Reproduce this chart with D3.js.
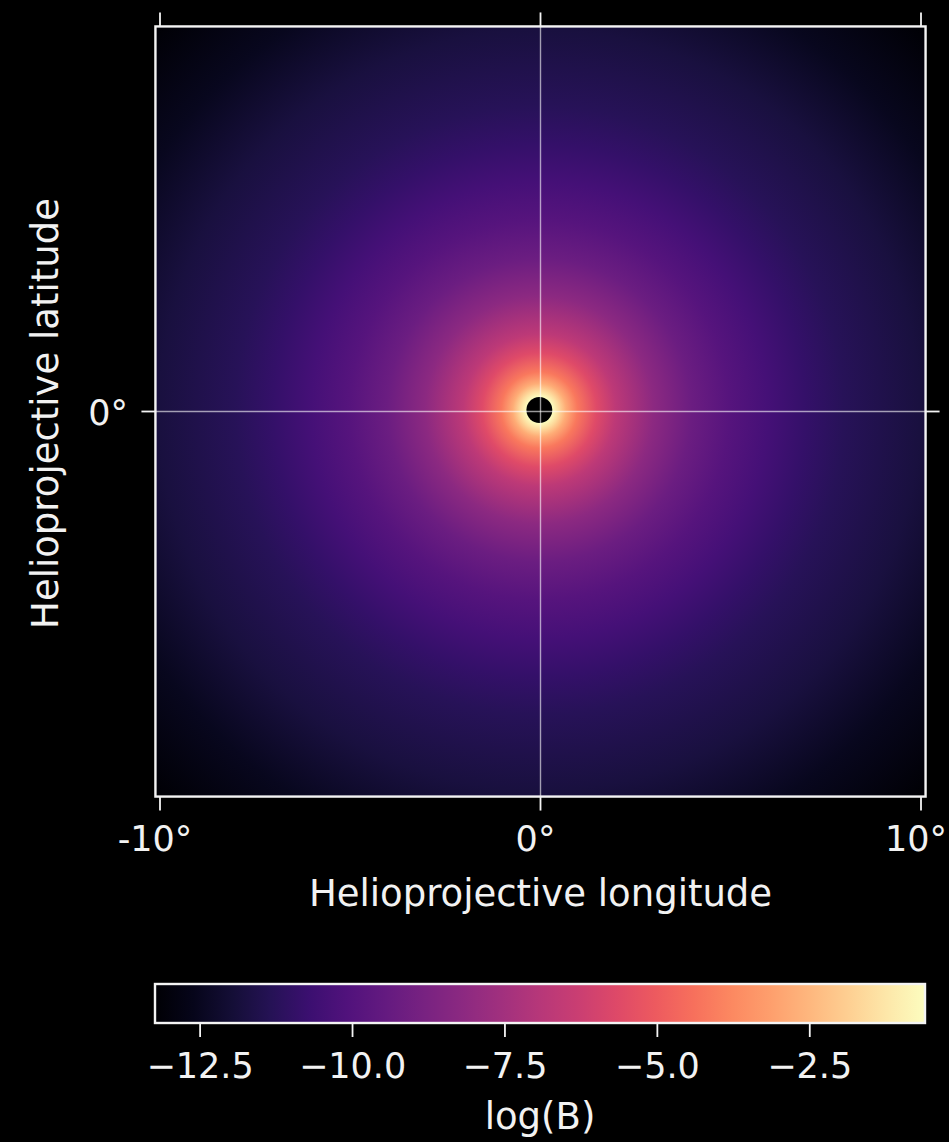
<!DOCTYPE html>
<html>
<head>
<meta charset="utf-8">
<script src="https://cdn.jsdelivr.net/npm/d3@7"></script>
<style>
  body { margin: 0; background: #000; }
  text { font-family: "DejaVu Sans", sans-serif; fill: #f2f2f2; }
</style>
</head>
<body>
<div id="chart"></div>
<script>
const width = 949;
const height = 1142;
const tick_font = 35;
const label_font = 37;

// radial profile of the image (degrees from centre -> log(B))
const profile_r = [0.34, 0.5, 0.7, 1.0, 1.5, 2.0, 3.0, 4.0, 5.0, 6.0, 7.0, 8.0, 10.0, 12.0, 14.31];
const profile_v = [-0.6, -1.5, -2.8, -4.2, -5.6, -6.7, -8.2, -9.2, -9.9, -10.4, -10.9, -11.3, -11.8, -12.5, -13.2];
const disk_r = 0.34;
const disk_center = [-0.03, 0.04];

const extent_deg = 10.12;
const axis_ticks = [-10, 0, 10];
const lat_ticks = [0];
const cbar_domain = [-13.24, -0.61];
const cbar_ticks = [-12.5, -10.0, -7.5, -5.0, -2.5];
const x_label = "Helioprojective longitude";
const y_label = "Helioprojective latitude";
const cbar_label = "log(B)";

function degLabel(d) {
    return (d < 0 ? "-" : "") + Math.abs(d) + "°";
}

function drawMap(svg) {
    var x = d3.scaleLinear().domain([-10, 10]).range([160, 921]);
    var y = d3.scaleLinear().domain([-10, 10]).range([792, 31]);
    var px_per_deg = x(1) - x(0);
    var left = x(-extent_deg), right = x(extent_deg);
    var top = y(extent_deg), bottom = y(-extent_deg);

    var color = d3.scaleSequential(d3.interpolateMagma).domain(cbar_domain);

    var defs = svg.select("defs");
    var grad = defs.append("radialGradient")
        .attr("id", "field")
        .attr("gradientUnits", "userSpaceOnUse")
        .attr("cx", x(disk_center[0]))
        .attr("cy", y(disk_center[1]))
        .attr("r", profile_r[profile_r.length - 1] * px_per_deg);
    var rmax = profile_r[profile_r.length - 1];
    grad.selectAll("stop")
        .data(profile_r)
        .enter()
        .append("stop")
        .attr("offset", (d) => d / rmax)
        .attr("stop-color", (d, i) => color(profile_v[i]));

    defs.append("clipPath").attr("id", "plotclip")
        .append("rect")
        .attr("x", left).attr("y", top)
        .attr("width", right - left).attr("height", bottom - top);

    var g = svg.append("g").attr("clip-path", "url(#plotclip)");
    g.append("rect")
        .attr("x", left).attr("y", top)
        .attr("width", right - left).attr("height", bottom - top)
        .attr("fill", "url(#field)");

    //occulted disk
    g.append("circle")
        .attr("cx", x(disk_center[0]))
        .attr("cy", y(disk_center[1]))
        .attr("r", disk_r * px_per_deg)
        .attr("fill", "#000");

    //grid lines
    g.selectAll("line.vgrid")
        .data([0])
        .enter()
        .append("line")
        .attr("x1", (d) => x(d)).attr("x2", (d) => x(d))
        .attr("y1", top).attr("y2", bottom)
        .attr("stroke", "#fff").attr("stroke-opacity", 0.6).attr("stroke-width", 1.4);
    g.selectAll("line.hgrid")
        .data(lat_ticks)
        .enter()
        .append("line")
        .attr("y1", (d) => y(d)).attr("y2", (d) => y(d))
        .attr("x1", left).attr("x2", right)
        .attr("stroke", "#fff").attr("stroke-opacity", 0.6).attr("stroke-width", 1.4);

    //frame
    svg.append("rect")
        .attr("x", left).attr("y", top)
        .attr("width", right - left).attr("height", bottom - top)
        .attr("fill", "none").attr("stroke", "#f4f4f4").attr("stroke-width", 2.4);

    //ticks on all four sides
    var tick_len = 14;
    var ticks = svg.append("g").attr("stroke", "#f4f4f4").attr("stroke-width", 1.8);
    axis_ticks.forEach((d) => {
        ticks.append("line").attr("x1", x(d)).attr("x2", x(d)).attr("y1", top).attr("y2", top - tick_len);
        ticks.append("line").attr("x1", x(d)).attr("x2", x(d)).attr("y1", bottom).attr("y2", bottom + tick_len);
    });
    lat_ticks.forEach((d) => {
        ticks.append("line").attr("y1", y(d)).attr("y2", y(d)).attr("x1", left).attr("x2", left - tick_len);
        ticks.append("line").attr("y1", y(d)).attr("y2", y(d)).attr("x1", right).attr("x2", right + tick_len);
    });

    //tick labels
    svg.selectAll("text.xtick")
        .data(axis_ticks)
        .enter()
        .append("text")
        .attr("x", (d) => x(d) - 5)
        .attr("y", 851)
        .attr("text-anchor", "middle")
        .attr("font-size", tick_font)
        .text(degLabel);
    svg.selectAll("text.ytick")
        .data(lat_ticks)
        .enter()
        .append("text")
        .attr("x", 128)
        .attr("y", (d) => y(d) + 13)
        .attr("text-anchor", "end")
        .attr("font-size", tick_font)
        .text(degLabel);

    //axis labels
    svg.append("text")
        .attr("x", x(0))
        .attr("y", 906)
        .attr("text-anchor", "middle")
        .attr("font-size", label_font)
        .text(x_label);
    svg.append("text")
        .attr("transform", "translate(58," + (y(0) + 2) + ") rotate(-90)")
        .attr("text-anchor", "middle")
        .attr("font-size", label_font)
        .text(y_label);
}

function drawColorbar(svg) {
    var cb_x = d3.scaleLinear().domain(cbar_domain).range([155, 925]);
    var cb_top = 984, cb_h = 39;

    var lin = svg.select("defs").append("linearGradient")
        .attr("id", "cbar")
        .attr("x1", "0%").attr("x2", "100%");
    lin.selectAll("stop")
        .data(d3.range(0, 1.0001, 0.05))
        .enter()
        .append("stop")
        .attr("offset", (d) => d)
        .attr("stop-color", (d) => d3.interpolateMagma(d));

    svg.append("rect")
        .attr("x", cb_x.range()[0]).attr("y", cb_top)
        .attr("width", cb_x.range()[1] - cb_x.range()[0]).attr("height", cb_h)
        .attr("fill", "url(#cbar)")
        .attr("stroke", "#f4f4f4").attr("stroke-width", 2.4);

    svg.selectAll("line.cbtick")
        .data(cbar_ticks)
        .enter()
        .append("line")
        .attr("x1", (d) => cb_x(d)).attr("x2", (d) => cb_x(d))
        .attr("y1", cb_top + cb_h).attr("y2", cb_top + cb_h + 14)
        .attr("stroke", "#f4f4f4").attr("stroke-width", 1.8);

    svg.selectAll("text.cbtick")
        .data(cbar_ticks)
        .enter()
        .append("text")
        .attr("x", (d) => cb_x(d))
        .attr("y", 1078)
        .attr("text-anchor", "middle")
        .attr("font-size", tick_font)
        .text((d) => d3.format(".1f")(d).replace("-", "\u2212"));

    svg.append("text")
        .attr("x", 540)
        .attr("y", 1129)
        .attr("text-anchor", "middle")
        .attr("font-size", label_font)
        .text(cbar_label);
}

function main() {
    var svg = d3.select("#chart").append("svg")
        .attr("width", width)
        .attr("height", height)
        .style("background", "#000");
    svg.append("defs");
    drawMap(svg);
    drawColorbar(svg);
}

main();
</script>
</body>
</html>
